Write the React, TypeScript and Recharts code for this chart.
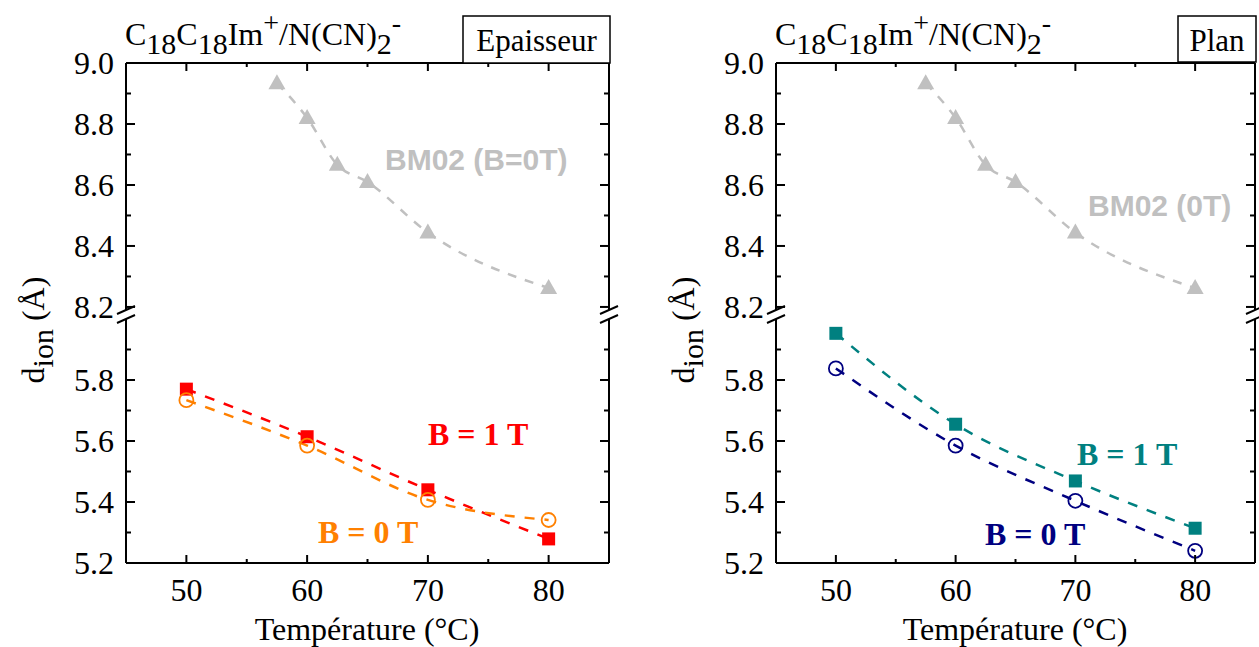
import React from 'react';
import { LineChart, Line, XAxis, YAxis } from 'recharts';

// ---------- data ----------
const temps = [50, 60, 70, 80];
const epaisseurB1 = [5.77, 5.614, 5.44, 5.279];
const epaisseurB0 = [5.734, 5.585, 5.407, 5.341];
const planB1 = [5.953, 5.655, 5.469, 5.314];
const planB0 = [5.838, 5.585, 5.404, 5.24];
const bm02Temps = [57.5, 60, 62.5, 65, 70, 80];
const bm02Values = [8.934, 8.82, 8.666, 8.61, 8.444, 8.262];

const xTicks = [50, 55, 60, 65, 70, 75, 80];
const yTopTicks = [8.2, 8.3, 8.4, 8.5, 8.6, 8.7, 8.8, 8.9, 9.0];
const yBottomTicks = [5.2, 5.3, 5.4, 5.5, 5.6, 5.7, 5.8, 5.9];
const xDomain: [number, number] = [45, 85];
const yTopDomain: [number, number] = [8.19, 9.0];
const yBottomDomain: [number, number] = [5.2, 6.0];

const toPoints = (xs: number[], ys: number[]) => xs.map((x, i) => ({ x, y: ys[i] }));

// ---------- style ----------
const SERIF = "'Liberation Serif', 'Times New Roman', Times, serif";
const SANS = "'Liberation Sans', Arial, Helvetica, sans-serif";
const W = 1259;
const H = 647;
const PLOT_TOP = 63;
const TOP_BOTTOM = 310;
const BOTTOM_TOP = 319;
const PLOT_BOTTOM = 563;
const AXIS = { stroke: '#000', strokeWidth: 2 };

const isMajorY = (v: number) => Math.round(v * 10) % 2 === 0;

const XTickBottom = (p: any) => {
  const v = p.payload.value;
  const major = v % 10 === 0;
  return (
    <g>
      <line x1={p.x} x2={p.x} y1={p.y} y2={p.y - (major ? 8 : 4)} stroke="#000" strokeWidth={2} />
      {major && (
        <text x={p.x} y={p.y + 38} textAnchor="middle" fontSize={32} fontFamily={SERIF} fill="#000">
          {v}
        </text>
      )}
    </g>
  );
};

const XTickTop = (p: any) => {
  const v = p.payload.value;
  const major = v % 10 === 0;
  return <line x1={p.x} x2={p.x} y1={p.y} y2={p.y + (major ? 8 : 4)} stroke="#000" strokeWidth={2} />;
};

const YTickLeft = (p: any) => {
  const v = p.payload.value;
  const major = isMajorY(v);
  return (
    <g>
      <line x1={p.x} x2={p.x + (major ? 9 : 5)} y1={p.y} y2={p.y} stroke="#000" strokeWidth={2} />
      {major && (
        <text x={p.x - 12} y={p.y} dy="0.35em" textAnchor="end" fontSize={32} fontFamily={SERIF} fill="#000">
          {v.toFixed(1)}
        </text>
      )}
    </g>
  );
};

const YTickRight = (p: any) => {
  const v = p.payload.value;
  const major = isMajorY(v);
  return <line x1={p.x} x2={p.x - (major ? 9 : 5)} y1={p.y} y2={p.y} stroke="#000" strokeWidth={2} />;
};

const squareDot = (color: string) => (p: any) => (
  <rect key={`sq${p.index}`} x={p.cx - 6.5} y={p.cy - 6.5} width={13} height={13} fill={color} />
);
const circleDot = (color: string) => (p: any) => (
  <circle key={`ci${p.index}`} cx={p.cx} cy={p.cy} r={7} fill="none" stroke={color} strokeWidth={1.8} />
);
const triangleDot = (color: string) => (p: any) => (
  <path
    key={`tr${p.index}`}
    d={`M${p.cx},${p.cy - 9} L${p.cx + 8.5},${p.cy + 6} L${p.cx - 8.5},${p.cy + 6} Z`}
    fill={color}
  />
);

type PanelProps = {
  left: number;
  width: number;
  plotL: number;
  plotR: number;
  b1: number[];
  b0: number[];
  c1: string;
  c0: string;
};

const yAxisCommon = {
  type: 'number' as const,
  width: 1,
  tickSize: 0,
  tickMargin: 0,
  tickLine: false,
  axisLine: AXIS,
  interval: 0 as const,
  allowDataOverflow: true,
};

function Panel({ left, width, plotL, plotR, b1, b0, c1, c0 }: PanelProps) {
  const ml = plotL - left - 1;
  const mr = left + width - plotR - 1;
  const commonX = {
    type: 'number' as const,
    dataKey: 'x',
    domain: xDomain,
    ticks: xTicks,
    height: 1,
    tickSize: 0,
    tickMargin: 0,
    tickLine: false,
    axisLine: AXIS,
    interval: 0 as const,
    allowDataOverflow: true,
  };
  return (
    <>
      <div style={{ position: 'absolute', left, top: 0 }}>
        <LineChart width={width} height={H} margin={{ top: PLOT_TOP - 1, right: mr, bottom: H - TOP_BOTTOM, left: ml }}>
          <XAxis {...commonX} orientation="top" tick={XTickTop} />
          <YAxis yAxisId="l" {...yAxisCommon} domain={yTopDomain} ticks={yTopTicks} tick={YTickLeft} />
          <YAxis yAxisId="r" orientation="right" {...yAxisCommon} domain={yTopDomain} ticks={yTopTicks} tick={YTickRight} />
          <Line
            yAxisId="l"
            data={toPoints(bm02Temps, bm02Values)}
            dataKey="y"
            type="monotone"
            stroke="#c0c0c0"
            strokeWidth={2.5}
            strokeDasharray="9 9"
            dot={triangleDot('#c0c0c0')}
            isAnimationActive={false}
          />
        </LineChart>
      </div>
      <div style={{ position: 'absolute', left, top: 0 }}>
        <LineChart width={width} height={H} margin={{ top: BOTTOM_TOP, right: mr, bottom: H - PLOT_BOTTOM - 1, left: ml }}>
          <XAxis {...commonX} orientation="bottom" tick={XTickBottom} />
          <YAxis yAxisId="l" {...yAxisCommon} domain={yBottomDomain} ticks={yBottomTicks} tick={YTickLeft} />
          <YAxis yAxisId="r" orientation="right" {...yAxisCommon} domain={yBottomDomain} ticks={yBottomTicks} tick={YTickRight} />
          <Line
            yAxisId="l"
            data={toPoints(temps, b1)}
            dataKey="y"
            type="monotone"
            stroke={c1}
            strokeWidth={2.5}
            strokeDasharray="10 10"
            dot={squareDot(c1)}
            isAnimationActive={false}
          />
          <Line
            yAxisId="l"
            data={toPoints(temps, b0)}
            dataKey="y"
            type="monotone"
            stroke={c0}
            strokeWidth={2.5}
            strokeDasharray="10 10"
            dot={circleDot(c0)}
            isAnimationActive={false}
          />
        </LineChart>
      </div>
    </>
  );
}

const Title = ({ x, y }: { x: number; y: number }) => (
  <text x={x} y={y} fontSize={32} fontFamily={SERIF} fill="#000">
    C<tspan dy={9} fontSize={30}>18</tspan>
    <tspan dy={-9}>C</tspan>
    <tspan dy={9} fontSize={30}>18</tspan>
    <tspan dy={-9}>Im</tspan>
    <tspan dy={-13} fontSize={28}>+</tspan>
    <tspan dy={13}>/N(CN)</tspan>
    <tspan dy={9} fontSize={30}>2</tspan>
    <tspan dy={-22} fontSize={28}>-</tspan>
  </text>
);

const YTitle = ({ x, y }: { x: number; y: number }) => (
  <text transform={`translate(${x},${y}) rotate(-90)`} textAnchor="middle" fontSize={32} fontFamily={SERIF} fill="#000">
    d<tspan dy={9} fontSize={30}>ion</tspan>
    <tspan dy={-9}> (Å)</tspan>
  </text>
);

const Breaks = ({ xs }: { xs: number[] }) => (
  <g stroke="#000" strokeWidth={2}>
    {xs.map((x) => (
      <g key={x}>
        <line x1={x - 9} y1={TOP_BOTTOM + 4} x2={x + 9} y2={TOP_BOTTOM - 4} />
        <line x1={x - 9} y1={BOTTOM_TOP + 4} x2={x + 9} y2={BOTTOM_TOP - 4} />
      </g>
    ))}
  </g>
);

export default function App() {
  return (
    <div style={{ position: 'absolute', left: 0, top: 0, width: W, height: H, background: '#fff', overflow: 'hidden' }}>
      <Panel left={0} width={640} plotL={126} plotR={609} b1={epaisseurB1} b0={epaisseurB0} c1="#ff0000" c0="#ff8000" />
      <Panel left={640} width={619} plotL={776} plotR={1255} b1={planB1} b0={planB0} c1="#008080" c0="#000080" />
      <svg width={W} height={H} style={{ position: 'absolute', left: 0, top: 0, pointerEvents: 'none' }}>
        <Breaks xs={[126, 609, 776, 1255]} />
        <Title x={125} y={45} />
        <Title x={775} y={45} />
        <rect x={463} y={16} width={147} height={47} fill="#fff" stroke="#000" strokeWidth={1.5} />
        <text x={536.5} y={51} textAnchor="middle" fontSize={31} fontFamily={SERIF} fill="#000">Epaisseur</text>
        <rect x={1178} y={16} width={78} height={46} fill="#fff" stroke="#000" strokeWidth={1.5} />
        <text x={1217} y={51} textAnchor="middle" fontSize={31} fontFamily={SERIF} fill="#000">Plan</text>
        <YTitle x={44} y={330} />
        <YTitle x={694} y={330} />
        <text x={367} y={640} textAnchor="middle" fontSize={32} fontFamily={SERIF} fill="#000">Température (°C)</text>
        <text x={1015} y={640} textAnchor="middle" fontSize={32} fontFamily={SERIF} fill="#000">Température (°C)</text>
        <text x={385} y={170} fontSize={30} fontWeight="bold" fontFamily={SANS} fill="#c0c0c0">BM02 (B=0T)</text>
        <text x={1088} y={216} fontSize={30} fontWeight="bold" fontFamily={SANS} fill="#c0c0c0">BM02 (0T)</text>
        <text x={428} y={445} fontSize={32} fontWeight="bold" fontFamily={SERIF} fill="#ff0000">B = 1 T</text>
        <text x={318} y={543} fontSize={32} fontWeight="bold" fontFamily={SERIF} fill="#ff8000">B = 0 T</text>
        <text x={1077} y={465} fontSize={32} fontWeight="bold" fontFamily={SERIF} fill="#008080">B = 1 T</text>
        <text x={985} y={545} fontSize={32} fontWeight="bold" fontFamily={SERIF} fill="#000080">B = 0 T</text>
      </svg>
    </div>
  );
}
